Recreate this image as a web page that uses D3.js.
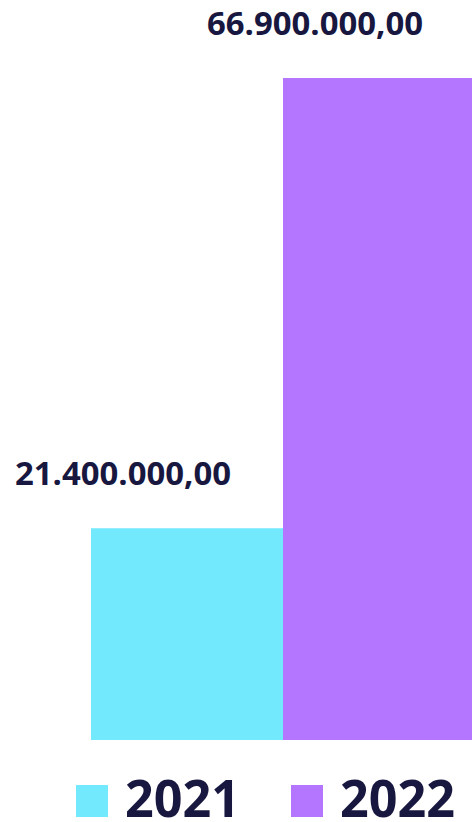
<!DOCTYPE html>
<html lang="en">
<head>
    <meta charset="utf-8">
    <title>Bar chart 2021 / 2022</title>
    <script type="text/javascript" src="https://cdn.jsdelivr.net/npm/d3@7"></script>
    <style type="text/css">
        html, body { margin: 0; padding: 0; background: #fff; }
        svg { display: block; }
        text { font-family: "Open Sans", sans-serif; font-weight: bold; fill: #17173f; }
    </style>
</head>
<body>
<script type="text/javascript">

    var w = 472
    var h = 822

    // data
    var years = ["2021", "2022"]
    var values = [21400000, 66900000]
    var valueLabels = ["21.400.000,00", "66.900.000,00"]
    var colors = ["#73e9fe", "#b476fe"]

    var svg = d3.select("body")
        .append("svg")
        .attr("width", w)
        .attr("height", h);

    var x = d3.scaleBand()
        .domain(years)
        .range([91, 475])
        .padding(0);

    var y = d3.scaleLinear()
        .domain([0, 66900000])
        .range([740, 78]);

    //bars
    svg.selectAll("rect.bar")
        .data(values)
        .enter()
        .append("rect")
        .attr("class", "bar")
        .attr("x", function(d, i){ return x(years[i]); })
        .attr("y", function(d){ return y(d); })
        .attr("width", x.bandwidth())
        .attr("height", function(d){ return y(0) - y(d); })
        .attr("fill", function(d, i){ return colors[i]; });

    //value labels (sit a bit left of the bar centre, like the original)
    svg.selectAll("text.val")
        .data(values)
        .enter()
        .append("text")
        .attr("class", "val")
        .attr("x", function(d, i){ return x(years[i]) + x.bandwidth() / 2 - 64; })
        .attr("y", function(d){ return y(d) - 43; })
        .attr("text-anchor", "middle")
        .attr("font-size", 33)
        .attr("textLength", 216)
        .attr("lengthAdjust", "spacingAndGlyphs")
        .text(function(d, i){ return valueLabels[i]; });

    //legend
    var legendX = [76, 291]
    var legend = svg.selectAll("g.legend")
        .data(years)
        .enter()
        .append("g")
        .attr("class", "legend")
        .attr("transform", function(d, i){ return "translate(" + legendX[i] + ",785)"; });

    legend.append("rect")
        .attr("width", 32)
        .attr("height", 32)
        .attr("fill", function(d, i){ return colors[i]; });

    legend.append("text")
        .attr("x", 49)
        .attr("y", 32)
        .attr("font-size", 52)
        .attr("textLength", 115)
        .attr("lengthAdjust", "spacingAndGlyphs")
        .text(function(d){ return d; });

</script>
</body>
</html>
